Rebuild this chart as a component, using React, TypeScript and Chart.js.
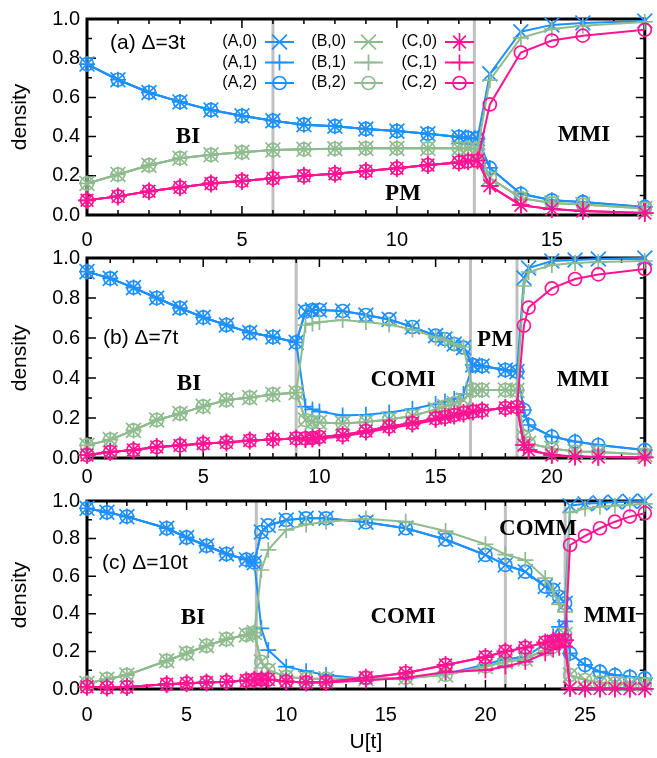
import React, { useEffect, useRef } from 'react';
import { Chart, registerables } from 'chart.js';
Chart.register(...registerables);

const BLUE = '#1e90ff';
const GREEN = '#8fbc8f';
const PINK = '#ff1493';

const seriesNames = ['(A,0)', '(A,1)', '(A,2)', '(B,0)', '(B,1)', '(B,2)', '(C,0)', '(C,1)', '(C,2)'];
const yTicks = [0, 0.2, 0.4, 0.6, 0.8, 1.0];

// ---------- Panel (a) Δ=3t ----------
const uA = [0, 1, 2, 3, 4, 5, 6, 7, 8, 9, 10, 11, 12, 12.3, 12.6, 13, 14, 15, 16, 18];
const aA0 = [0.77, 0.69, 0.625, 0.577, 0.536, 0.506, 0.481, 0.461, 0.453, 0.439, 0.428, 0.414, 0.398, 0.394, 0.39, 0.72, 0.935, 0.97, 0.98, 0.99];
const aA1 = [0.77, 0.69, 0.625, 0.577, 0.536, 0.506, 0.481, 0.461, 0.453, 0.439, 0.428, 0.414, 0.398, 0.394, 0.39, 0.24, 0.108, 0.075, 0.066, 0.041];
const aA2 = [0.77, 0.69, 0.625, 0.577, 0.536, 0.506, 0.481, 0.461, 0.453, 0.439, 0.428, 0.414, 0.398, 0.394, 0.39, 0.24, 0.108, 0.075, 0.066, 0.041];
const aB0 = [0.161, 0.207, 0.254, 0.29, 0.307, 0.32, 0.332, 0.335, 0.338, 0.34, 0.34, 0.34, 0.34, 0.34, 0.335, 0.19, 0.086, 0.061, 0.053, 0.033];
const aB1 = [0.161, 0.207, 0.254, 0.29, 0.307, 0.32, 0.332, 0.335, 0.338, 0.34, 0.34, 0.34, 0.34, 0.34, 0.335, 0.688, 0.904, 0.949, 0.965, 0.985];
const aB2 = [0.161, 0.207, 0.254, 0.29, 0.307, 0.32, 0.332, 0.335, 0.338, 0.34, 0.34, 0.34, 0.34, 0.34, 0.335, 0.19, 0.086, 0.061, 0.053, 0.033];
const aC0 = [0.075, 0.095, 0.121, 0.141, 0.161, 0.174, 0.187, 0.2, 0.21, 0.224, 0.238, 0.255, 0.268, 0.274, 0.278, 0.149, 0.05, 0.03, 0.02, 0.01];
const aC1 = [0.075, 0.095, 0.121, 0.141, 0.161, 0.174, 0.187, 0.2, 0.21, 0.224, 0.238, 0.255, 0.268, 0.274, 0.278, 0.149, 0.05, 0.03, 0.02, 0.01];
const aC2 = [0.075, 0.095, 0.121, 0.141, 0.161, 0.174, 0.187, 0.2, 0.21, 0.224, 0.238, 0.255, 0.268, 0.274, 0.278, 0.564, 0.829, 0.89, 0.915, 0.945];
const xTicksA = [0, 5, 10, 15];
const boundsA = [6, 12.5];

// ---------- Panel (b) Δ=7t ----------
const uB = [0, 1, 2, 3, 4, 5, 6, 7, 8, 9, 9.4, 9.7, 10, 11, 12, 13, 14, 15, 15.4, 15.8, 16.2, 16.6, 17, 18, 18.5, 18.8, 19, 20, 21, 22, 24];
const bA0 = [0.932, 0.898, 0.852, 0.8, 0.75, 0.703, 0.665, 0.627, 0.605, 0.578, 0.732, 0.74, 0.74, 0.735, 0.715, 0.693, 0.655, 0.612, 0.595, 0.57, 0.552, 0.465, 0.46, 0.44, 0.432, 0.9, 0.95, 0.985, 0.99, 0.995, 1.0];
const bA1 = [0.932, 0.898, 0.852, 0.8, 0.75, 0.703, 0.665, 0.627, 0.605, 0.578, 0.257, 0.243, 0.232, 0.213, 0.216, 0.228, 0.245, 0.27, 0.282, 0.295, 0.32, 0.465, 0.46, 0.44, 0.432, 0.24, 0.165, 0.107, 0.082, 0.065, 0.04];
const bA2 = [0.932, 0.898, 0.852, 0.8, 0.75, 0.703, 0.665, 0.627, 0.605, 0.578, 0.732, 0.74, 0.74, 0.735, 0.715, 0.693, 0.655, 0.612, 0.595, 0.57, 0.552, 0.465, 0.46, 0.44, 0.432, 0.24, 0.165, 0.107, 0.082, 0.065, 0.04];
const bB0 = [0.063, 0.092, 0.138, 0.19, 0.222, 0.258, 0.29, 0.302, 0.318, 0.327, 0.19, 0.18, 0.178, 0.173, 0.18, 0.193, 0.21, 0.243, 0.257, 0.273, 0.29, 0.34, 0.34, 0.34, 0.338, 0.107, 0.073, 0.048, 0.032, 0.03, 0.018];
const bB1 = [0.063, 0.092, 0.138, 0.19, 0.222, 0.258, 0.29, 0.302, 0.318, 0.327, 0.665, 0.673, 0.68, 0.69, 0.68, 0.668, 0.642, 0.603, 0.59, 0.57, 0.555, 0.34, 0.34, 0.34, 0.338, 0.86, 0.93, 0.965, 0.975, 0.98, 0.985];
const bB2 = [0.063, 0.092, 0.138, 0.19, 0.222, 0.258, 0.29, 0.302, 0.318, 0.327, 0.19, 0.18, 0.178, 0.173, 0.18, 0.193, 0.21, 0.243, 0.257, 0.273, 0.29, 0.34, 0.34, 0.34, 0.338, 0.107, 0.073, 0.048, 0.032, 0.03, 0.018];
const bC0 = [0.015, 0.03, 0.04, 0.055, 0.063, 0.072, 0.078, 0.087, 0.093, 0.098, 0.098, 0.1, 0.105, 0.115, 0.135, 0.157, 0.175, 0.198, 0.205, 0.215, 0.225, 0.232, 0.238, 0.25, 0.255, 0.065, 0.04, 0.015, 0.008, 0.005, 0.003];
const bC1 = [0.015, 0.03, 0.04, 0.055, 0.063, 0.072, 0.078, 0.087, 0.093, 0.098, 0.09, 0.092, 0.097, 0.107, 0.127, 0.149, 0.167, 0.19, 0.197, 0.207, 0.217, 0.232, 0.238, 0.25, 0.255, 0.065, 0.04, 0.015, 0.008, 0.005, 0.003];
const bC2 = [0.015, 0.03, 0.04, 0.055, 0.063, 0.072, 0.078, 0.087, 0.093, 0.098, 0.098, 0.1, 0.105, 0.115, 0.135, 0.157, 0.175, 0.198, 0.205, 0.215, 0.225, 0.232, 0.238, 0.25, 0.255, 0.662, 0.752, 0.848, 0.895, 0.918, 0.945];
const xTicksB = [0, 5, 10, 15, 20];
const boundsB = [9, 16.5, 18.5];

// ---------- Panel (c) Δ=10t ----------
const uC = [0, 1, 2, 4, 5, 6, 7, 8, 8.4, 8.75, 9.1, 10, 11, 12, 14, 16, 18, 20, 21, 22, 23, 23.4, 23.7, 24, 24.25, 25, 25.75, 26.5, 27.25, 28];
const cA0 = [0.961, 0.94, 0.917, 0.855, 0.806, 0.762, 0.718, 0.688, 0.672, 0.835, 0.87, 0.899, 0.908, 0.908, 0.887, 0.855, 0.795, 0.713, 0.66, 0.624, 0.545, 0.527, 0.49, 0.456, 0.975, 0.985, 0.99, 0.995, 0.998, 1.0];
const cA1 = [0.961, 0.94, 0.917, 0.855, 0.806, 0.762, 0.718, 0.688, 0.672, 0.323, 0.207, 0.119, 0.095, 0.075, 0.055, 0.055, 0.08, 0.13, 0.16, 0.17, 0.24, 0.28, 0.33, 0.36, 0.19, 0.128, 0.092, 0.074, 0.065, 0.057];
const cA2 = [0.961, 0.94, 0.917, 0.855, 0.806, 0.762, 0.718, 0.688, 0.672, 0.835, 0.87, 0.899, 0.908, 0.908, 0.887, 0.855, 0.795, 0.713, 0.66, 0.624, 0.545, 0.527, 0.49, 0.456, 0.19, 0.128, 0.092, 0.074, 0.065, 0.057];
const cB0 = [0.03, 0.052, 0.074, 0.15, 0.19, 0.23, 0.265, 0.288, 0.3, 0.145, 0.1, 0.065, 0.055, 0.055, 0.055, 0.06, 0.075, 0.12, 0.145, 0.16, 0.21, 0.225, 0.26, 0.29, 0.074, 0.048, 0.035, 0.03, 0.028, 0.025];
const cB1 = [0.03, 0.052, 0.074, 0.15, 0.19, 0.23, 0.265, 0.288, 0.3, 0.633, 0.74, 0.846, 0.875, 0.89, 0.905, 0.89, 0.84, 0.77, 0.715, 0.686, 0.59, 0.52, 0.45, 0.41, 0.94, 0.96, 0.97, 0.975, 0.98, 0.985];
const cB2 = [0.03, 0.052, 0.074, 0.15, 0.19, 0.23, 0.265, 0.288, 0.3, 0.145, 0.1, 0.065, 0.055, 0.055, 0.055, 0.06, 0.075, 0.12, 0.145, 0.16, 0.21, 0.225, 0.26, 0.29, 0.074, 0.048, 0.035, 0.03, 0.028, 0.025];
const cC0 = [0.012, 0.008, 0.01, 0.025, 0.03, 0.035, 0.038, 0.045, 0.05, 0.05, 0.05, 0.04, 0.035, 0.037, 0.06, 0.085, 0.128, 0.17, 0.2, 0.22, 0.248, 0.255, 0.258, 0.26, 0.005, 0.003, 0.002, 0.002, 0.001, 0.001];
const cC1 = [0.012, 0.008, 0.01, 0.025, 0.03, 0.035, 0.038, 0.045, 0.05, 0.05, 0.05, 0.04, 0.035, 0.035, 0.045, 0.06, 0.09, 0.1, 0.12, 0.145, 0.19, 0.21, 0.22, 0.225, 0.005, 0.003, 0.002, 0.002, 0.001, 0.001];
const cC2 = [0.012, 0.008, 0.01, 0.025, 0.03, 0.035, 0.038, 0.045, 0.05, 0.05, 0.05, 0.04, 0.035, 0.037, 0.06, 0.085, 0.128, 0.17, 0.2, 0.22, 0.248, 0.255, 0.258, 0.26, 0.766, 0.815, 0.855, 0.89, 0.917, 0.935];
const xTicksC = [0, 5, 10, 15, 20, 25];
const boundsC = [8.5, 21, 24];

// ---------- styling ----------
const PAGE_W = 657;
const PAGE_H = 758;
const SANS = '"Liberation Sans", Arial, Helvetica, sans-serif';
const SERIF = '"Liberation Serif", "Times New Roman", serif';

const markerStyles = [
  { color: BLUE, pt: 'crossRot' }, { color: BLUE, pt: 'cross' }, { color: BLUE, pt: 'circle' },
  { color: GREEN, pt: 'crossRot' }, { color: GREEN, pt: 'cross' }, { color: GREEN, pt: 'circle' },
  { color: PINK, pt: 'star' }, { color: PINK, pt: 'cross' }, { color: PINK, pt: 'circle' },
];
const markerRadius: Record<string, number> = { crossRot: 10.5, cross: 8, circle: 6.5, star: 9 };

function drawMarker(ctx: CanvasRenderingContext2D, pt: string, x: number, y: number, r: number) {
  ctx.beginPath();
  if (pt === 'circle') {
    ctx.arc(x, y, r, 0, Math.PI * 2);
  }
  if (pt === 'cross' || pt === 'star') {
    ctx.moveTo(x - r, y); ctx.lineTo(x + r, y);
    ctx.moveTo(x, y - r); ctx.lineTo(x, y + r);
  }
  if (pt === 'crossRot' || pt === 'star') {
    const d = r * Math.SQRT1_2;
    ctx.moveTo(x - d, y - d); ctx.lineTo(x + d, y + d);
    ctx.moveTo(x + d, y - d); ctx.lineTo(x - d, y + d);
  }
  ctx.stroke();
}

const framePlugin = {
  id: 'frame',
  beforeDatasetsDraw(chart: any, _args: any, opts: any) {
    const { ctx, chartArea } = chart;
    const { left, right, top, bottom } = chartArea;
    const x = chart.scales.x;
    const y = chart.scales.y;
    ctx.save();
    ctx.strokeStyle = '#c0c0c0';
    ctx.lineWidth = 3;
    for (const b of opts.bounds) {
      const px = x.getPixelForValue(b);
      ctx.beginPath(); ctx.moveTo(px, top); ctx.lineTo(px, bottom); ctx.stroke();
    }
    ctx.strokeStyle = '#000';
    ctx.lineWidth = 1.5;
    ctx.beginPath();
    for (let v = 0; v <= opts.xMax; v += 1) {
      const px = x.getPixelForValue(v);
      const len = v % 5 === 0 ? 9 : 5;
      ctx.moveTo(px, bottom); ctx.lineTo(px, bottom - len);
      ctx.moveTo(px, top); ctx.lineTo(px, top + len);
    }
    for (let k = 0; k <= 10; k++) {
      const py = y.getPixelForValue(k / 10);
      const len = k % 2 === 0 ? 9 : 5;
      ctx.moveTo(left, py); ctx.lineTo(left + len, py);
      ctx.moveTo(right, py); ctx.lineTo(right - len, py);
    }
    ctx.stroke();
    ctx.lineWidth = 3;
    ctx.strokeRect(left, top, right - left, bottom - top);
    ctx.restore();
  },
  afterDatasetsDraw(chart: any, _args: any, opts: any) {
    const ctx: CanvasRenderingContext2D = chart.ctx;
    ctx.save();
    ctx.fillStyle = '#000';
    ctx.font = `bold 23px ${SERIF}`;
    ctx.textAlign = 'center';
    ctx.textBaseline = 'alphabetic';
    for (const ph of opts.phases) ctx.fillText(ph.t, ph.x, ph.y + 8);
    ctx.font = `21px ${SANS}`;
    ctx.textAlign = 'left';
    ctx.textBaseline = 'middle';
    ctx.fillText(opts.tag.t, opts.tag.x, opts.tag.y);
    if (opts.legend) {
      const cols = [257, 346, 437];
      const rows = [42, 62.5, 83];
      ctx.font = `16px ${SANS}`;
      ctx.textAlign = 'right';
      for (let c = 0; c < 3; c++) {
        for (let r = 0; r < 3; r++) {
          const i = c * 3 + r;
          const st = markerStyles[i];
          const tx = cols[c];
          const ty = rows[r];
          ctx.fillStyle = '#000';
          ctx.fillText(seriesNames[i], tx, ty);
          ctx.strokeStyle = st.color;
          ctx.lineWidth = 2;
          ctx.beginPath(); ctx.moveTo(tx + 8, ty); ctx.lineTo(tx + 37, ty); ctx.stroke();
          ctx.lineWidth = 1.7;
          drawMarker(ctx, st.pt, tx + 22.5, ty, markerRadius[st.pt]);
        }
      }
    }
    ctx.restore();
  },
};

type PanelCfg = {
  u: number[];
  series: number[][];
  xMax: number;
  xTicks: number[];
  bounds: number[];
  top: number;
  bottom: number;
  axisBottom: number;
  labelPad: number;
  xTitle: boolean;
  phases: { t: string; x: number; y: number }[];
  tag: { t: string; x: number; y: number };
  legend: boolean;
};

const panels: PanelCfg[] = [
  {
    u: uA, series: [aA0, aA1, aA2, aB0, aB1, aB2, aC0, aC1, aC2], xMax: 18, xTicks: xTicksA, bounds: boundsA,
    top: 14, bottom: 215, axisBottom: 250, labelPad: 13, xTitle: false,
    phases: [{ t: 'BI', x: 188, y: 135 }, { t: 'PM', x: 403, y: 192 }, { t: 'MMI', x: 584, y: 133 }],
    tag: { t: '(a) Δ=3t', x: 110, y: 43 }, legend: true,
  },
  {
    u: uB, series: [bA0, bA1, bA2, bB0, bB1, bB2, bC0, bC1, bC2], xMax: 24, xTicks: xTicksB, bounds: boundsB,
    top: 258, bottom: 458, axisBottom: 490, labelPad: 7, xTitle: false,
    phases: [{ t: 'BI', x: 189, y: 382 }, { t: 'COMI', x: 403, y: 378 }, { t: 'PM', x: 495, y: 338 }, { t: 'MMI', x: 583, y: 378 }],
    tag: { t: '(b) Δ=7t', x: 103, y: 338 }, legend: false,
  },
  {
    u: uC, series: [cA0, cA1, cA2, cB0, cB1, cB2, cC0, cC1, cC2], xMax: 28, xTicks: xTicksC, bounds: boundsC,
    top: 501, bottom: 689, axisBottom: 758, labelPad: 14, xTitle: true,
    phases: [{ t: 'BI', x: 193, y: 616 }, { t: 'COMI', x: 403, y: 615 }, { t: 'COMM', x: 538, y: 527 }, { t: 'MMI', x: 610, y: 614 }],
    tag: { t: '(c) Δ=10t', x: 102, y: 563 }, legend: false,
  },
];

function makeChart(canvas: HTMLCanvasElement, p: PanelCfg) {
  const datasets = p.series.map((s, i) => {
    const st = markerStyles[i];
    return {
      label: seriesNames[i],
      data: p.u.map((x, j) => ({ x, y: s[j] })),
      showLine: true,
      borderColor: st.color,
      backgroundColor: 'rgba(0,0,0,0)',
      borderWidth: 2,
      pointStyle: st.pt,
      pointRadius: markerRadius[st.pt],
      pointHoverRadius: markerRadius[st.pt],
      pointBorderWidth: 1.7,
      pointBorderColor: st.color,
      pointBackgroundColor: 'rgba(0,0,0,0)',
      tension: 0,
      fill: false,
      clip: false as any,
      order: 8 - i,
    };
  });
  const xAxisH = p.axisBottom - p.bottom;
  return new Chart(canvas, {
    type: 'scatter',
    data: { datasets },
    options: {
      animation: false,
      responsive: false,
      events: [],
      layout: { padding: { top: p.top, bottom: PAGE_H - p.axisBottom, left: 0, right: PAGE_W - 648 } },
      plugins: {
        legend: { display: false },
        tooltip: { enabled: false },
        frame: { bounds: p.bounds, xMax: p.xMax, phases: p.phases, tag: p.tag, legend: p.legend },
      } as any,
      scales: {
        x: {
          type: 'linear',
          min: 0,
          max: p.xMax,
          grid: { display: false, drawTicks: false },
          border: { display: false },
          ticks: { color: '#000', font: { family: SANS, size: 20 }, padding: p.labelPad, autoSkip: false, maxRotation: 0 },
          afterBuildTicks: (s: any) => { s.ticks = p.xTicks.map((v) => ({ value: v })); },
          afterFit: (s: any) => { s.height = xAxisH; },
          title: {
            display: p.xTitle,
            text: 'U[t]',
            color: '#000',
            font: { family: SANS, size: 21 },
            padding: { top: 0, bottom: 3 },
          },
        },
        y: {
          type: 'linear',
          min: 0,
          max: 1,
          grid: { display: false, drawTicks: false },
          border: { display: false },
          ticks: { color: '#000', font: { family: SANS, size: 20 }, padding: 7, callback: (v: any) => Number(v).toFixed(1) },
          afterBuildTicks: (s: any) => { s.ticks = yTicks.map((v) => ({ value: v })); },
          afterFit: (s: any) => { s.width = 87; },
          title: {
            display: true,
            text: 'density',
            color: '#000',
            font: { family: SANS, size: 21 },
            padding: { top: 8, bottom: 0 },
          },
        },
      },
    } as any,
    plugins: [framePlugin],
  });
}

export default function App() {
  const r0 = useRef<HTMLCanvasElement>(null);
  const r1 = useRef<HTMLCanvasElement>(null);
  const r2 = useRef<HTMLCanvasElement>(null);
  useEffect(() => {
    const refs = [r0, r1, r2];
    const charts = refs.map((r, i) => makeChart(r.current as HTMLCanvasElement, panels[i]));
    return () => charts.forEach((c) => c.destroy());
  }, []);
  const style: React.CSSProperties = { position: 'absolute', left: 0, top: 0, width: PAGE_W, height: PAGE_H, display: 'block' };
  return (
    <div style={{ position: 'absolute', left: 0, top: 0, width: PAGE_W, height: PAGE_H, background: '#fff' }}>
      <canvas ref={r0} width={PAGE_W} height={PAGE_H} style={style} />
      <canvas ref={r1} width={PAGE_W} height={PAGE_H} style={style} />
      <canvas ref={r2} width={PAGE_W} height={PAGE_H} style={style} />
    </div>
  );
}
